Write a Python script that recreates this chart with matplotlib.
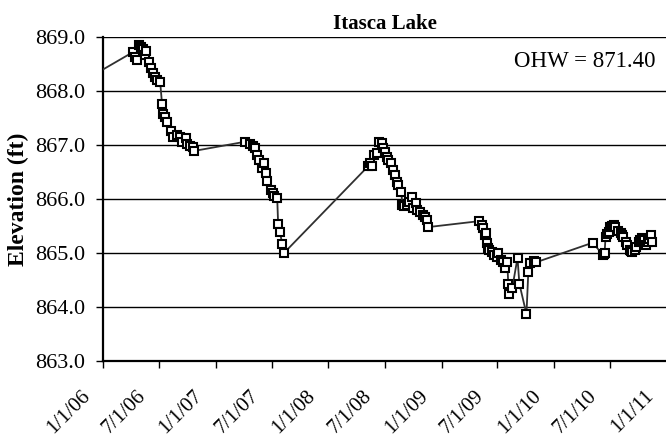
import numpy as np
import pandas as pd
import matplotlib
matplotlib.use("Agg")
import matplotlib.pyplot as plt
import matplotlib.transforms as mtransforms

# lake level readings
dates_2005 = ["2005-10-15"]
elev_2005 = [868.14]

dates_2006 = ["2006-04-08", "2006-04-15", "2006-04-21", "2006-04-28", "2006-05-04",
              "2006-05-11", "2006-05-17", "2006-05-20", "2006-05-30", "2006-06-05",
              "2006-06-12", "2006-06-18", "2006-06-25", "2006-07-05", "2006-07-11",
              "2006-07-14", "2006-07-21", "2006-07-27", "2006-08-09", "2006-08-16",
              "2006-08-29", "2006-09-08", "2006-09-14", "2006-09-27", "2006-09-30",
              "2006-10-10", "2006-10-20", "2006-10-23"]
elev_2006 = [868.72, 868.63, 868.57, 868.85, 868.82,
             868.78, 868.67, 868.74, 868.54, 868.43,
             868.33, 868.26, 868.20, 868.17, 867.76,
             867.57, 867.52, 867.43, 867.26, 867.15,
             867.19, 867.15, 867.06, 867.13, 867.02,
             866.98, 866.96, 866.89]

dates_2007 = ["2007-04-06", "2007-04-22", "2007-05-02", "2007-05-09", "2007-05-15",
              "2007-05-21", "2007-05-31", "2007-06-07", "2007-06-13", "2007-06-16",
              "2007-06-29", "2007-07-06", "2007-07-09", "2007-07-19", "2007-07-22",
              "2007-07-28", "2007-08-04", "2007-08-10"]
elev_2007 = [867.06, 867.02, 866.98, 866.94, 866.81,
             866.72, 866.57, 866.67, 866.48, 866.33,
             866.17, 866.11, 866.06, 866.02, 865.54,
             865.39, 865.17, 865.00]

dates_2008 = ["2008-05-09", "2008-05-15", "2008-05-22", "2008-05-28", "2008-06-07",
              "2008-06-13", "2008-06-23", "2008-06-26", "2008-07-03", "2008-07-09",
              "2008-07-13", "2008-07-22", "2008-07-29", "2008-08-04", "2008-08-11",
              "2008-08-14", "2008-08-24", "2008-08-27", "2008-09-02", "2008-09-12",
              "2008-09-19", "2008-09-28", "2008-10-02", "2008-10-11", "2008-10-15",
              "2008-10-24", "2008-11-03", "2008-11-09", "2008-11-16", "2008-11-19"]
elev_2008 = [866.61, 866.67, 866.61, 866.81, 866.85,
             867.06, 867.04, 866.94, 866.87, 866.78,
             866.72, 866.67, 866.54, 866.44, 866.31,
             866.26, 866.13, 865.89, 865.87, 865.89,
             865.94, 866.04, 865.83, 865.93, 865.80,
             865.76, 865.70, 865.67, 865.61, 865.48]

dates_2009 = ["2009-05-03", "2009-05-13", "2009-05-16", "2009-05-23", "2009-05-26",
              "2009-05-29", "2009-06-02", "2009-06-05", "2009-06-15", "2009-06-21",
              "2009-06-28", "2009-07-04", "2009-07-11", "2009-07-20", "2009-07-27",
              "2009-08-02", "2009-08-05", "2009-08-09", "2009-08-18", "2009-09-04",
              "2009-09-10", "2009-10-03", "2009-10-09", "2009-10-16", "2009-10-26",
              "2009-11-04"]
elev_2009 = [865.59, 865.52, 865.46, 865.33, 865.37,
             865.19, 865.09, 865.06, 865.02, 864.96,
             864.93, 865.00, 864.87, 864.83, 864.72,
             864.83, 864.43, 864.24, 864.35, 864.91,
             864.43, 863.87, 864.65, 864.81, 864.85,
             864.83]

dates_2010 = ["2010-05-05", "2010-06-09", "2010-06-11", "2010-06-13", "2010-06-16",
              "2010-06-21", "2010-06-26", "2010-07-02", "2010-07-07", "2010-07-12",
              "2010-07-18", "2010-07-25", "2010-08-04", "2010-08-09", "2010-08-13",
              "2010-08-20", "2010-08-26", "2010-09-02", "2010-09-07", "2010-09-11",
              "2010-09-18", "2010-09-24", "2010-10-01", "2010-10-06", "2010-10-11",
              "2010-10-17", "2010-10-24", "2010-10-30", "2010-11-04", "2010-11-09",
              "2010-11-15"]
elev_2010 = [865.19, 864.96, 864.98, 865.00, 865.30,
             865.35, 865.39, 865.48, 865.50, 865.52,
             865.48, 865.41, 865.37, 865.33, 865.30,
             865.20, 865.15, 865.06, 865.04, 865.02,
             865.06, 865.11, 865.20, 865.24, 865.28,
             865.24, 865.15, 865.20, 865.26, 865.33,
             865.20]

x_ticks = ["2006-01-01", "2006-07-01", "2007-01-01", "2007-07-01", "2008-01-01",
           "2008-07-01", "2009-01-01", "2009-07-01", "2010-01-01", "2010-07-01",
           "2011-01-01"]
x_tick_labels = ["1/1/06", "7/1/06", "1/1/07", "7/1/07", "1/1/08", "7/1/08",
                 "1/1/09", "7/1/09", "1/1/10", "7/1/10", "1/1/11"]
title = "Itasca Lake"
ohw_label = "OHW = 871.40"


def plot_lake():
    plt.rcParams['font.family'] = ['Liberation Serif', 'DejaVu Serif']

    dates = pd.to_datetime(dates_2005 + dates_2006 + dates_2007 + dates_2008
                           + dates_2009 + dates_2010)
    elev = np.array(elev_2005 + elev_2006 + elev_2007 + elev_2008
                    + elev_2009 + elev_2010)

    fig = plt.figure(figsize=(6.66, 4.38), dpi=100)
    ax = fig.add_axes([103 / 666, 77 / 438, 564 / 666, 324 / 438])

    ax.plot(dates, elev, color='#303030', linewidth=1.3, marker='s',
            markersize=5.2, markerfacecolor='white', markeredgecolor='black',
            markeredgewidth=1.5, zorder=3)

    ticks = pd.to_datetime(x_ticks)
    ax.set_xlim(ticks[0], ticks[-1])
    ax.set_ylim(863, 869)
    ax.set_xticks(ticks)
    ax.set_xticklabels(x_tick_labels, rotation=45, ha='right',
                       rotation_mode='anchor', va='center')
    ax.set_yticks(np.arange(863, 870, 1))
    ax.yaxis.set_major_formatter(matplotlib.ticker.FormatStrFormatter('%.1f'))
    ax.tick_params(axis='both', length=5, width=1, color='black')
    ax.tick_params(axis='x', labelsize=15, pad=18)
    ax.tick_params(axis='y', labelsize=16, pad=8)

    # shift the date labels to the left like in the original
    offset = mtransforms.ScaledTranslation(-0.16, 0, fig.dpi_scale_trans)
    for label in ax.get_xticklabels():
        label.set_transform(label.get_transform() + offset)

    ax.grid(True, axis='y', color='black', linewidth=1.0)
    ax.set_axisbelow(True)
    ax.spines['top'].set_visible(False)
    ax.spines['right'].set_visible(False)
    ax.spines['left'].set_linewidth(1.6)
    ax.spines['bottom'].set_linewidth(1.6)

    ax.set_title(title, fontsize=15, fontweight='bold', pad=6)
    ax.set_ylabel("Elevation (ft)", fontsize=17, fontweight='bold', labelpad=4)
    ax.text(0.979, 0.923, ohw_label, transform=ax.transAxes, ha='right',
            va='center', fontsize=16.5)

    fig.savefig('out.png', dpi=100)


if __name__ == "__main__":
    plot_lake()
